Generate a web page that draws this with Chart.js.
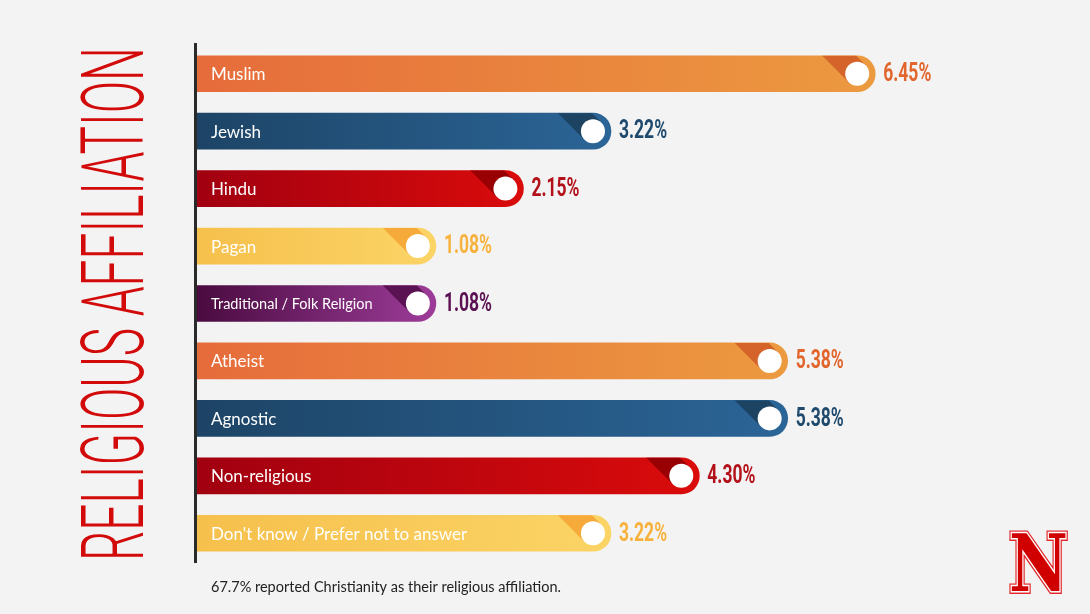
<!DOCTYPE html>
<html>
<head>
<meta charset="utf-8">
<script src="https://cdn.jsdelivr.net/npm/chart.js@4"></script>
<style>
  html, body { margin: 0; padding: 0; background: #f3f3f3; }
  #chart { display: block; }
</style>
</head>
<body>
<canvas id="chart" width="1090" height="614"></canvas>
<script>
// Religious affiliation shares (%)
const categories = ['Muslim', 'Jewish', 'Hindu', 'Pagan', 'Traditional / Folk Religion',
    'Atheist', 'Agnostic', 'Non-religious', "Don't know / Prefer not to answer"];
const percentages = [6.45, 3.22, 2.15, 1.08, 1.08, 5.38, 5.38, 4.30, 3.22];
const valueLabels = ['6.45%', '3.22%', '2.15%', '1.08%', '1.08%', '5.38%', '5.38%', '4.30%', '3.22%'];

const chartTitle = 'RELIGIOUS AFFILIATION';
const footnote = '67.7% reported Christianity as their religious affiliation.';

// colour families: [gradient start, gradient end, shadow stripe, value label]
const palette = {
    orange: ['#e66c3b', '#ec9a40', '#d5642a', '#e2652c'],
    blue:   ['#1d4466', '#2b6597', '#1c4362', '#1f4a6d'],
    red:    ['#a10010', '#da0b0b', '#980004', '#b3111a'],
    yellow: ['#f6c04c', '#fbd466', '#f6aa3a', '#f7b23d'],
    purple: ['#4a0b40', '#9d3c99', '#5a1252', '#5b1151']
};
const barColors = ['orange', 'blue', 'red', 'yellow', 'purple', 'orange', 'blue', 'red', 'yellow'];

const axisMin = -1.84;   // bars start left of zero so the labels fit inside
const axisMax = 8.0;

function barGradient(context) {
    const chart = context.chart;
    const fam = palette[barColors[context.dataIndex]];
    if (!chart.chartArea) return fam[0];
    const xs = chart.scales.x;
    const x0 = xs.getPixelForValue(axisMin);
    const x1 = xs.getPixelForValue(percentages[context.dataIndex]);
    const g = chart.ctx.createLinearGradient(x0, 0, x1, 0);
    g.addColorStop(0, fam[0]);
    g.addColorStop(1, fam[1]);
    return g;
}

const decorations = {
    id: 'decorations',
    beforeDraw(chart) {
        const { ctx, chartArea } = chart;
        ctx.save();
        // vertical axis line
        ctx.fillStyle = '#2a2a2a';
        ctx.fillRect(chartArea.left - 3, chartArea.top - 2, 3, chartArea.bottom - chartArea.top + 3);

        // rotated title
        ctx.fillStyle = '#d20a0a';
        ctx.font = '300 88px Roboto';
        ctx.textBaseline = 'alphabetic';
        const w = ctx.measureText(chartTitle).width;
        ctx.translate(143, 561);
        ctx.rotate(-Math.PI / 2);
        ctx.scale(514 / w, 1);
        ctx.fillText(chartTitle, 0, 0);
        ctx.restore();

        // footnote
        ctx.save();
        ctx.fillStyle = '#222';
        ctx.font = '14.5px Lato';
        ctx.textBaseline = 'middle';
        ctx.fillText(footnote, 211, 587);
        ctx.restore();

        // block N logo
        ctx.save();
        ctx.font = 'bold 80px "DejaVu Serif"';
        ctx.textBaseline = 'alphabetic';
        ctx.translate(1009, 591);
        const nw = ctx.measureText('N').width;
        ctx.scale(59 / nw, 0.98);
        ctx.lineJoin = 'miter';
        ctx.strokeStyle = '#e3262b';
        ctx.lineWidth = 6;
        ctx.strokeText('N', 0, 0);
        ctx.strokeStyle = '#ffffff';
        ctx.lineWidth = 3;
        ctx.strokeText('N', 0, 0);
        ctx.fillStyle = '#d00000';
        ctx.fillText('N', 0, 0);
        ctx.restore();
    },
    afterDatasetsDraw(chart) {
        const { ctx } = chart;
        const meta = chart.getDatasetMeta(0);
        meta.data.forEach((bar, i) => {
            const fam = palette[barColors[i]];
            const { x, y, base, height } = bar.getProps(['x', 'y', 'base', 'height'], true);
            const top = y - height / 2;
            const bottom = y + height / 2;
            const r = height / 2;
            const cr = 12;
            const cx = x - r;
            const cy = y;

            // bar outline for clipping
            ctx.save();
            ctx.beginPath();
            ctx.moveTo(base, top);
            ctx.lineTo(x - r, top);
            ctx.arc(x - r, y, r, -Math.PI / 2, Math.PI / 2);
            ctx.lineTo(base, bottom);
            ctx.closePath();
            ctx.clip();

            // long shadow stripe going up-left from the knob
            const k = Math.SQRT1_2 * cr;
            const p1 = [cx + k, cy - k];
            const p2 = [cx - k, cy + k];
            const d1 = p1[1] - top + 2;
            const d2 = p2[1] - top + 2;
            ctx.beginPath();
            ctx.moveTo(p1[0], p1[1]);
            ctx.lineTo(p1[0] - d1, p1[1] - d1);
            ctx.lineTo(p2[0] - d2, p2[1] - d2);
            ctx.lineTo(p2[0], p2[1]);
            ctx.closePath();
            ctx.fillStyle = fam[2];
            ctx.fill();
            ctx.restore();

            // white knob
            ctx.save();
            ctx.beginPath();
            ctx.arc(cx, cy, cr, 0, Math.PI * 2);
            ctx.fillStyle = '#ffffff';
            ctx.fill();

            // category label inside bar
            ctx.fillStyle = '#ffffff';
            ctx.font = i === 4 ? '14.5px Lato' : '17px Lato';
            ctx.textBaseline = 'middle';
            ctx.fillText(categories[i], base + 14, y + 1);

            // value label
            ctx.font = 'bold 25px Roboto';
            ctx.fillStyle = fam[3];
            ctx.translate(x + 8, y + 1);
            ctx.scale(0.7, 1);
            ctx.fillText(valueLabels[i], 0, 0);
            ctx.restore();
        });
    }
};

const chart = new Chart(document.getElementById('chart'), {
    type: 'bar',
    data: {
        labels: categories,
        datasets: [{
            data: percentages,
            base: axisMin,
            backgroundColor: barGradient,
            borderWidth: 0,
            borderRadius: 18,
            borderSkipped: 'start',
            barThickness: 36
        }]
    },
    options: {
        indexAxis: 'y',
        responsive: false,
        animation: false,
        layout: {
            padding: { left: 197, right: 88, top: 45, bottom: 52 }
        },
        scales: {
            x: { display: false, min: axisMin, max: axisMax },
            y: { display: false }
        },
        plugins: {
            legend: { display: false },
            tooltip: { enabled: false }
        }
    },
    plugins: [decorations]
});
</script>
</body>
</html>
